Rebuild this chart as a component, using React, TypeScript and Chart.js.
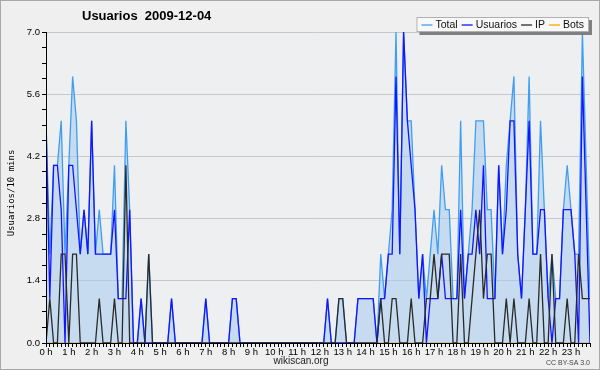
import React, { useEffect, useRef } from "react";
import { Chart, registerables } from "chart.js";

Chart.register(...registerables);

const TITLE = "Usuarios  2009-12-04";
const Y_TITLE = "Usuarios/10 mins";
const HOURS = ["0 h","1 h","2 h","3 h","4 h","5 h","6 h","7 h","8 h","9 h","10 h","11 h","12 h","13 h","14 h","15 h","16 h","17 h","18 h","19 h","20 h","21 h","22 h","23 h"];
const Y_LABELS = ["0.0", "1.4", "2.8", "4.2", "5.6", "7.0"];

// 10-minute slots, 144 per day
const TOTAL = [
  5,2,4,4,5,2,4,6,5,2, 3,2,5,2,3,2,2,2,4,1,
  1,5,3,0,0,1,0,2,0,0, 0,0,0,1,0,0,0,0,0,0,
  0,0,1,0,0,0,0,0,0,1, 1,0,0,0,0,0,0,0,0,0,
  0,0,0,0,0,0,0,0,0,0, 0,0,0,0,1,0,0,1,1,0,
  0,0,1,1,1,1,1,0,2,1, 2,3,7,2,7,5,5,3,1,2,
  1,2,3,2,4,3,3,1,1,5, 1,2,3,5,5,5,3,3,1,4,
  2,4,5,6,2,1,3,6,2,2, 5,3,1,2,1,1,3,4,3,2,
  2,7,4,1,
];
const USUARIOS = [
  5,1,4,4,3,0,4,4,3,2, 3,2,5,2,2,2,2,2,3,1,
  1,1,3,0,0,1,0,0,0,0, 0,0,0,1,0,0,0,0,0,0,
  0,0,1,0,0,0,0,0,0,1, 1,0,0,0,0,0,0,0,0,0,
  0,0,0,0,0,0,0,0,0,0, 0,0,0,0,1,0,0,0,0,0,
  0,0,1,1,1,1,1,0,1,1, 2,2,6,2,7,5,4,3,1,2,
  0,1,1,1,2,1,1,1,1,3, 1,2,2,3,2,4,1,1,1,4,
  2,3,5,5,2,1,3,5,2,2, 3,3,1,0,1,1,3,3,3,2,
  0,6,3,0,
];
const IP = [
  0,1,0,0,2,2,0,2,2,0, 0,0,0,0,1,0,0,0,1,0,
  0,4,0,0,0,0,0,2,0,0, 0,0,0,0,0,0,0,0,0,0,
  0,0,0,0,0,0,0,0,0,0, 0,0,0,0,0,0,0,0,0,0,
  0,0,0,0,0,0,0,0,0,0, 0,0,0,0,0,0,0,1,1,0,
  0,0,0,0,0,0,0,0,1,0, 0,1,1,0,0,0,1,0,0,0,
  1,1,2,1,2,2,2,0,0,2, 0,0,1,2,3,1,2,2,0,0,
  0,1,0,1,0,0,0,1,0,0, 2,0,0,2,0,0,0,1,0,0,
  2,1,1,1,
];
const BOTS = [
  0,0,0,0,0,0,0,0,0,0, 0,0,0,0,0,0,0,0,0,0,
  0,0,0,0,0,0,0,0,0,0, 0,0,0,0,0,0,0,0,0,0,
  0,0,0,0,0,0,0,0,0,0, 0,0,0,0,0,0,0,0,0,0,
  0,0,0,0,0,0,0,0,0,0, 0,0,0,0,0,0,0,0,0,0,
  0,0,0,0,0,0,0,0,0,0, 0,0,0,0,0,0,0,0,0,0,
  0,0,0,0,0,0,0,0,0,0, 0,0,0,0,0,0,0,0,0,0,
  0,0,0,0,0,0,0,0,0,0, 0,0,0,0,0,0,0,0,0,0,
  0,0,0,0,
];

const C_TOTAL = "#3f9ef2";
const C_FILL = "rgba(165,203,236,0.55)";
const C_USU = "#1414ff";
const C_IP = "#2a2a2a";
const C_BOTS = "#ffa500";
const SANS = '"Liberation Sans", Arial, sans-serif';

const toPts = (arr: number[]) => arr.map((v, i) => ({ x: i, y: v }));
const isMajor = (v: number) => Math.abs(v / 1.4 - Math.round(v / 1.4)) < 1e-6;

const decor = {
  id: "decor",
  beforeDraw(chart: any) {
    const { ctx, chartArea: a, width, height } = chart;
    ctx.save();
    ctx.fillStyle = "#efefef";
    ctx.fillRect(0, 0, width, height);
    ctx.strokeStyle = "#a8a8a8";
    ctx.lineWidth = 1;
    ctx.strokeRect(0.5, 0.5, width - 1, height - 1);
    ctx.fillStyle = "#eeeff1";
    ctx.fillRect(a.left, a.top, a.right - a.left, a.bottom - a.top);
    ctx.restore();
  },
  afterDraw(chart: any) {
    const { ctx } = chart;
    ctx.save();
    // title
    ctx.fillStyle = "#000";
    ctx.font = `bold 13px ${SANS}`;
    ctx.textBaseline = "middle";
    ctx.textAlign = "left";
    ctx.fillText(TITLE, 82, 16.5);
    // y title
    ctx.save();
    ctx.translate(11.5, 193);
    ctx.rotate(-Math.PI / 2);
    ctx.font = '9px "DejaVu Sans Mono", monospace';
    ctx.textAlign = "center";
    ctx.fillText(Y_TITLE, 0, 0);
    ctx.restore();
    // footer
    ctx.font = `10px ${SANS}`;
    ctx.textAlign = "center";
    ctx.fillStyle = "#222";
    ctx.fillText("wikiscan.org", 301, 361);
    ctx.font = `7px ${SANS}`;
    ctx.textAlign = "right";
    ctx.fillStyle = "#444";
    ctx.fillText("CC BY-SA 3.0", 590, 363);
    // legend
    const items = [
      { label: "Total", color: C_TOTAL },
      { label: "Usuarios", color: C_USU },
      { label: "IP", color: C_IP },
      { label: "Bots", color: C_BOTS },
    ];
    ctx.font = `10.5px ${SANS}`;
    ctx.textAlign = "left";
    let content = 0;
    for (const it of items) content += 11 + 3 + ctx.measureText(it.label).width + 4;
    content -= 4;
    const bh = 15;
    const bw = content + 10;
    const bx = 589 - bw, by = 17;
    ctx.fillStyle = "#808080";
    ctx.fillRect(bx + 3, by + 3, bw, bh);
    ctx.fillStyle = "#f8f8f8";
    ctx.fillRect(bx, by, bw, bh);
    ctx.strokeStyle = "#b0b0b0";
    ctx.lineWidth = 1;
    ctx.strokeRect(bx + 0.5, by + 0.5, bw - 1, bh - 1);
    let x = bx + 5;
    const ly = by + bh / 2 + 0.5;
    for (const it of items) {
      ctx.strokeStyle = it.color;
      ctx.lineWidth = 1.3;
      ctx.beginPath();
      ctx.moveTo(x, ly);
      ctx.lineTo(x + 11, ly);
      ctx.stroke();
      x += 14;
      ctx.fillStyle = "#111";
      ctx.fillText(it.label, x, ly);
      x += ctx.measureText(it.label).width + 4;
    }
    ctx.restore();
  },
};

export default function App() {
  const ref = useRef<HTMLCanvasElement | null>(null);
  useEffect(() => {
    if (!ref.current) return;
    const lineBase = { pointRadius: 0, pointHoverRadius: 0, tension: 0, borderWidth: 1.3 };
    const chart = new Chart(ref.current, {
      type: "line",
      data: {
        datasets: [
          { ...lineBase, label: "Bots", data: toPts(BOTS), borderColor: C_BOTS, fill: false, order: 4 },
          { ...lineBase, label: "Total", data: toPts(TOTAL), borderColor: C_TOTAL, backgroundColor: C_FILL, fill: "origin", order: 3 },
          { ...lineBase, label: "Usuarios", data: toPts(USUARIOS), borderColor: C_USU, fill: false, order: 2 },
          { ...lineBase, label: "IP", data: toPts(IP), borderColor: C_IP, fill: false, order: 1 },
        ],
      },
      options: {
        responsive: false,
        animation: false,
        devicePixelRatio: 1,
        layout: { padding: { top: 32, right: 10, left: 0, bottom: 0 } },
        plugins: { legend: { display: false }, tooltip: { enabled: false }, title: { display: false } },
        scales: {
          x: {
            type: "linear",
            min: 0,
            max: 143,
            ticks: {
              stepSize: 1,
              autoSkip: false,
              maxRotation: 0,
              padding: 0,
              color: "#000",
              font: { size: 9.5, family: SANS },
              callback: (v: any) => {
                const n = Math.round(Number(v));
                return n % 6 === 0 ? HOURS[n / 6] : "";
              },
            },
            grid: { drawOnChartArea: false, drawTicks: true, tickLength: 4, tickColor: "#000", color: "#000" },
            border: { display: true, color: "#000", width: 1, z: 1 },
            afterFit: (s: any) => { s.height = 27; },
          },
          y: {
            min: 0,
            max: 7,
            ticks: {
              stepSize: 0.35,
              autoSkip: false,
              padding: 2,
              color: "#000",
              font: { size: 9.5, family: SANS },
              callback: (v: any) => {
                const n = Number(v);
                return isMajor(n) ? Y_LABELS[Math.round(n / 1.4)] : "";
              },
            },
            grid: {
              color: (c: any) => (c.tick && isMajor(c.tick.value) && c.tick.value > 0 ? "#c8c8c8" : "rgba(0,0,0,0)"),
              tickColor: "#000",
              tickLength: 4,
              drawTicks: true,
            },
            border: { display: true, color: "#000", width: 1, z: 1 },
            afterFit: (s: any) => { s.width = 46; },
          },
        },
      },
      plugins: [decor],
    } as any);
    return () => chart.destroy();
  }, []);
  return (
    <div style={{ position: "absolute", left: 0, top: 0, width: 600, height: 370 }}>
      <canvas ref={ref} width={600} height={370} style={{ width: 600, height: 370, display: "block" }} />
    </div>
  );
}
